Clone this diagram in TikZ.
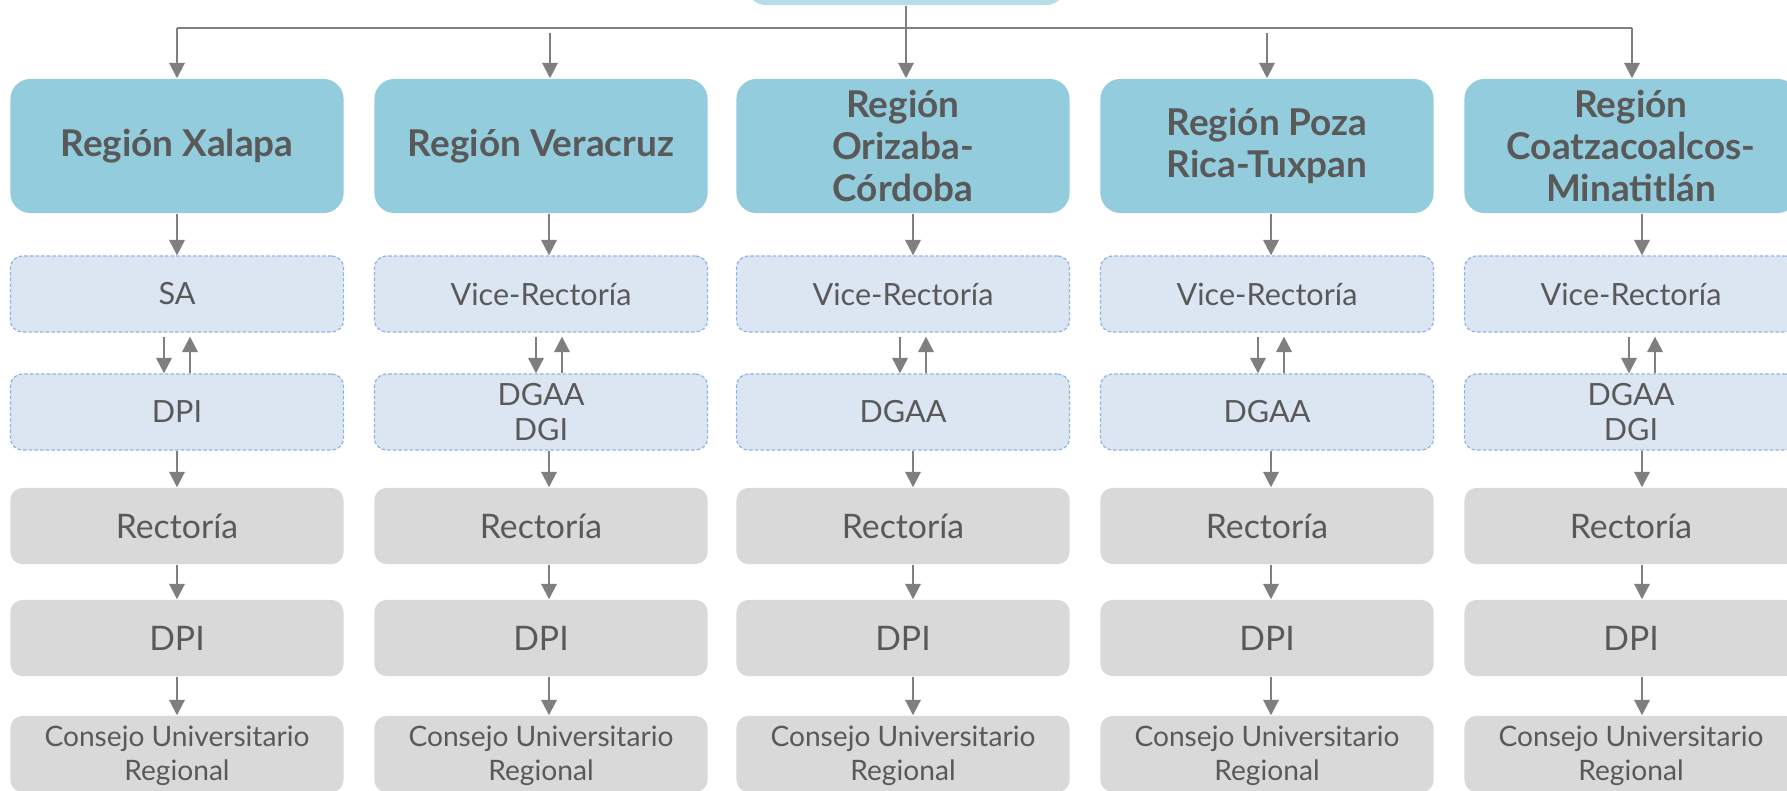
\documentclass[tikz,border=0pt]{standalone}
\usepackage{fontspec}
\setmainfont{Lato}
\usetikzlibrary{positioning,arrows.meta}
\definecolor{regfill}{HTML}{93CDDD}
\definecolor{topfill}{HTML}{B7DEE8}
\definecolor{subfill}{HTML}{DCE6F2}
\definecolor{subline}{HTML}{8EB4E3}
\definecolor{grayfill}{HTML}{D9D9D9}
\definecolor{txt}{HTML}{595959}
\definecolor{arr}{HTML}{7F7F7F}
\tikzset{
	box/.style={
		rectangle,
		rounded corners=0.12cm,
		text=txt,
		align=center,
		inner sep=0pt,
		minimum width=3.33cm,
		minimum height=0.76cm,
		font=\fontsize{8.7}{10.2}\selectfont
	},
	topbox/.style={box, fill=topfill, rounded corners=0.2cm, minimum width=3.2cm, minimum height=0.76cm},
	region/.style={box, fill=regfill, rounded corners=0.2cm, minimum height=1.34cm,
		font=\fontsize{10.5}{12}\selectfont\bfseries},
	office/.style={box, fill=subfill, draw=subline, line width=0.35pt, dash pattern=on 1pt off 0.6pt},
	plain/.style={box, fill=grayfill, font=\fontsize{9.6}{10.5}\selectfont},
	council/.style={plain, font=\fontsize{8}{9.6}\selectfont, text depth=0.5pt},
	wire/.style={draw=arr, line width=0.6pt},
	link/.style={wire, -{Triangle[width=4.4pt,length=4.4pt]}}
}
\begin{document}
\begin{tikzpicture}[x=0.01cm, y=-0.01cm]
	\useasboundingbox (0,0) rectangle (1787,791);
	\clip (0,0) rectangle (1787,791);
	\node[topbox] (top) at (906,-33) {};
	\coordinate (busL) at (177,28);
	\coordinate (busR) at (1632,28);
	\coordinate (gap) at (0,33);
	\foreach \c/\x/\sh/\reg/\sub/\dir in {
		1/177/0/{Región Xalapa}/SA/DPI,
		2/541/8/{Región Veracruz}/Vice-Rectoría/{DGAA\\DGI},
		3/903/10/{Región\\Orizaba-\\Córdoba}/Vice-Rectoría/DGAA,
		4/1267/4/{Región Poza\\Rica-Tuxpan}/Vice-Rectoría/DGAA,
		5/1631/11/{Región\\Coatzacoalcos-\\Minatitlán}/Vice-Rectoría/{DGAA\\DGI}}{
		\node[region] (reg\c) at (\x,146) {\reg};
		\node[office] (sub\c) at (\x,294) {\sub};
		\node[office] (dir\c) at (\x,412) {\dir};
		\node[plain] (rec\c) at (\x,526) {Rectoría};
		\node[plain] (dpi\c) at (\x,638) {DPI};
		\node[council] (con\c) at (\x,754) {Consejo Universitario\\Regional};
		\draw[link] ([shift={(\sh,0)}]reg\c.south) -- ([shift={(\sh,0)}]sub\c.north);
		\draw[link] ([shift={(\sh-13,4)}]sub\c.south) -- ([shift={(\sh-13,0)}]dir\c.north);
		\draw[link] ([shift={(\sh+13,0)}]dir\c.north) -- ([shift={(\sh+13,4)}]sub\c.south);
		\draw[link] ([shift={(\sh,0)}]dir\c.south) -- ([shift={(\sh,0)}]rec\c.north);
		\draw[link] ([shift={(\sh,0)}]rec\c.south) -- ([shift={(\sh,0)}]dpi\c.north);
		\draw[link] ([shift={(\sh,0)}]dpi\c.south) -- ([shift={(\sh,0)}]con\c.north);
	}
	\draw[wire] (busL) -- (busR);
	\draw[link] (busL) -- (reg1.north);
	\draw[link] (busR) -- (busR |- reg5.north);
	\draw[link] (top.south) -- (top.south |- reg3.north);
	\draw[link] ([xshift=0.09cm]reg2.north |- gap) -- ([xshift=0.09cm]reg2.north);
	\draw[link] (reg4.north |- gap) -- (reg4.north);
\end{tikzpicture}
\end{document}
